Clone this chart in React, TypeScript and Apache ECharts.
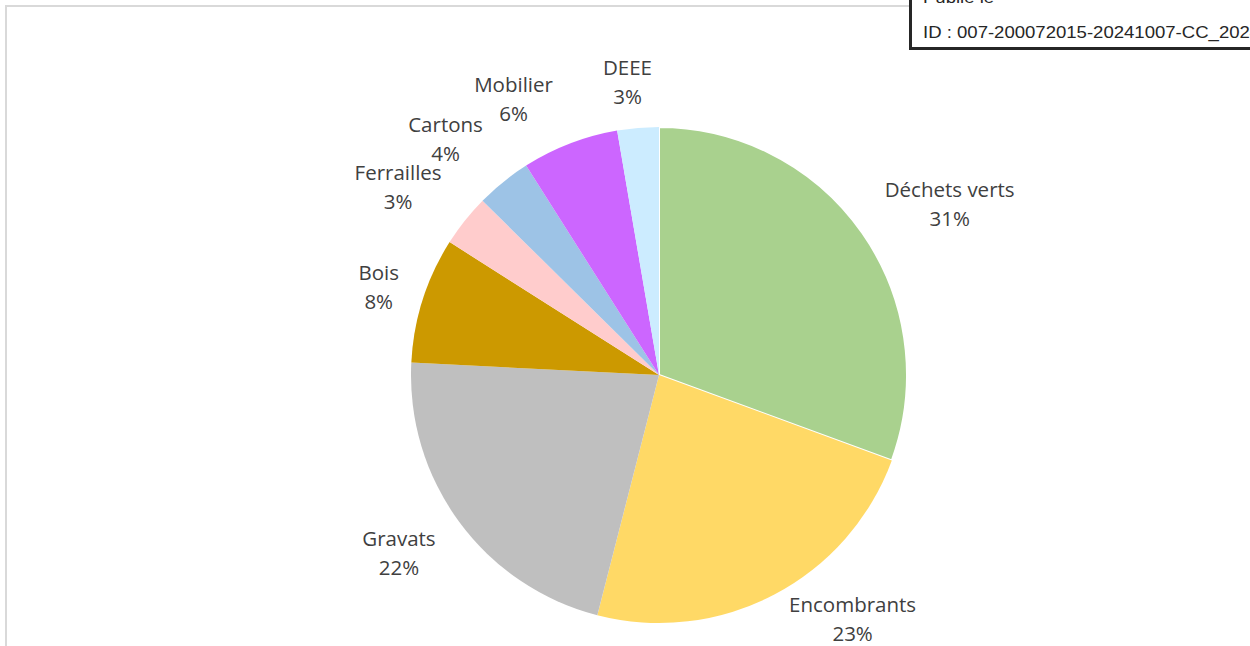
import { useEffect, useRef } from "react";
import * as echarts from "echarts";

const categories = ["Déchets verts", "Encombrants", "Gravats", "Bois", "Ferrailles", "Cartons", "Mobilier", "DEEE"];
const shares = [30.6, 23.4, 21.8, 8.2, 3.4, 3.6, 6.3, 2.7];
const sliceColors = ["#A9D18E", "#FFD966", "#BFBFBF", "#CC9900", "#FFCCCC", "#9DC3E6", "#CC66FF", "#CCECFF"];
const labelOffsets = [[34, 8], [48, -34], [-8, -8], [18, 6], [-16, 6], [-17, 7], [-33, 16], [-5, 18]];
const stampLines = ["Publié le", "ID : 007-200072015-20241007-CC_2024"];

export default function App() {
  const ref = useRef<HTMLDivElement>(null);
  useEffect(() => {
    const chart = echarts.init(ref.current!, undefined, { renderer: "svg" });
    const center = [659, 375];
    chart.setOption({
      animation: false,
      backgroundColor: "#ffffff",
      graphic: [
        {
          type: "rect",
          shape: { x: 6, y: 6, width: 1400, height: 900 },
          style: { fill: "none", stroke: "#D9D9D9", lineWidth: 2 },
          z: 1,
        },
        {
          type: "rect",
          shape: { x: 910.5, y: -20, width: 420, height: 68.5 },
          style: { fill: "#ffffff", stroke: "#262626", lineWidth: 3 },
          z: 10,
        },
        {
          type: "text",
          x: 923,
          y: -3,
          scaleX: 1.16,
          style: { text: stampLines[0], fill: "#262626", font: "16px 'Liberation Sans', Arial, sans-serif", verticalAlign: "middle" },
          z: 11,
        },
        {
          type: "text",
          x: 923,
          y: 32,
          scaleX: 1.16,
          style: { text: stampLines[1], fill: "#262626", font: "16px 'Liberation Sans', Arial, sans-serif", verticalAlign: "middle" },
          z: 11,
        },
      ],
      series: [
        {
          type: "pie",
          center,
          radius: 248,
          startAngle: 90,
          clockwise: true,
          silent: true,
          label: { show: false },
          labelLine: { show: false },
          emphasis: { disabled: true },
          data: categories.map((name, i) => ({
            name,
            value: shares[i],
            itemStyle: i === 0
              ? { color: sliceColors[i], borderColor: "#ffffff", borderWidth: 2 }
              : { color: sliceColors[i], borderWidth: 0 },
          })),
        },
        {
          type: "pie",
          center,
          radius: [300, 320],
          startAngle: 90,
          clockwise: true,
          silent: true,
          avoidLabelOverlap: false,
          labelLayout: { hideOverlap: false },
          emphasis: { disabled: true },
          itemStyle: { color: "rgba(0,0,0,0)", borderWidth: 0 },
          labelLine: { show: false },
          label: {
            show: true,
            position: "inside",
            color: "#404040",
            fontFamily: "'Open Sans', sans-serif",
            fontSize: 20.5,
            lineHeight: 29,
            align: "center",
            formatter: (p: any) => `${p.name}\n${Math.round(p.percent)}%`,
          },
          data: categories.map((name, i) => ({
            name,
            value: shares[i],
            label: { offset: labelOffsets[i] },
          })),
        },
      ],
    });
    return () => chart.dispose();
  }, []);
  return (
    <div
      ref={ref}
      style={{ position: "fixed", left: 0, top: 0, width: 1250, height: 646, background: "#fff" }}
    />
  );
}
